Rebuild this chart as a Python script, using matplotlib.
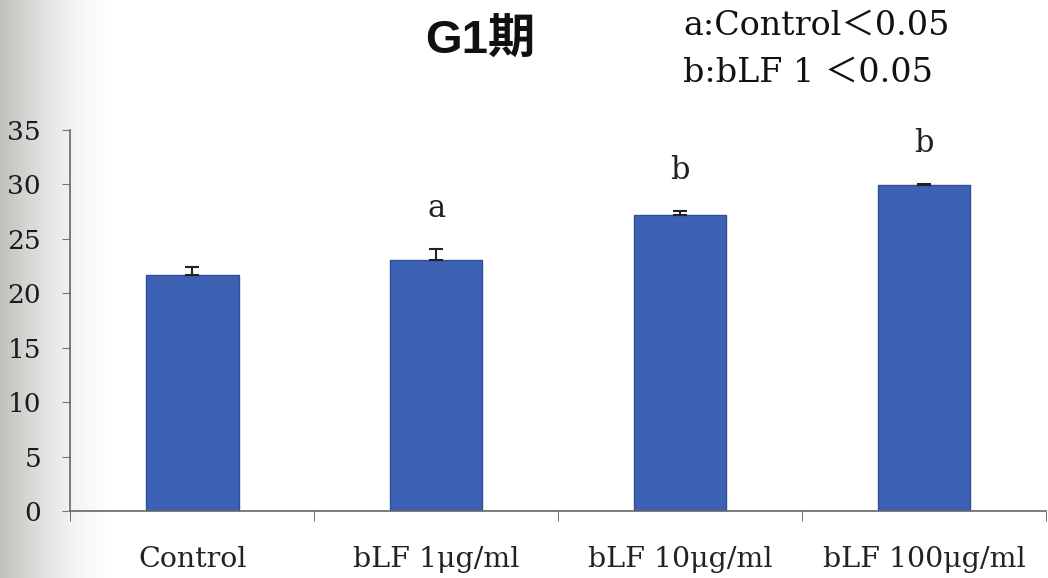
import numpy as np
import matplotlib
matplotlib.use("Agg")
import matplotlib.pyplot as plt

categories = ["Control", "bLF 1μg/ml", "bLF 10μg/ml", "bLF 100μg/ml"]
values = [21.7, 23.1, 27.2, 29.95]
errors = [0.7, 1.0, 0.35, 0.1]
sig_letters = ["", "a", "b", "b"]
yticks = [0, 5, 10, 15, 20, 25, 30, 35]
title = "G1期"
note_lines = ["a:Control＜0.05", "b:bLF 1 ＜0.05"]

serif = ["DejaVu Serif", "Noto Sans CJK JP"]
plt.rcParams["font.family"] = serif

fig = plt.figure(figsize=(10.48, 5.78), dpi=100)

# scan shading on left edge
bg = fig.add_axes([0, 0, 0.11, 1], zorder=-10)
grad = np.linspace(0, 1, 200)
alpha = np.clip(1 - grad, 0, 1) ** 1.6
img = np.ones((1, 200, 4))
img[..., 0] = 0.70
img[..., 1] = 0.71
img[..., 2] = 0.69
img[..., 3] = alpha * 0.85
bg.imshow(img, aspect="auto", extent=[0, 1, 0, 1])
bg.axis("off")

ax = fig.add_axes([0.067, 0.116, 0.931, 0.659])
ax.patch.set_alpha(0)
x = np.arange(len(categories))
ax.bar(x, values, width=0.38, color="#3D61B3", edgecolor="#2E4F9A", linewidth=1.0, zorder=2)
ax.errorbar(x, values, yerr=[np.zeros(len(errors)), errors], fmt="none",
            ecolor="#222222", elinewidth=1.5, capsize=5, capthick=1.5, zorder=3)

for xi, v, e, s in zip(x, values, errors, sig_letters):
    if s:
        ax.text(xi, v + e + 3.7, s, ha="center", va="center", fontsize=22, color="#222222")

ax.set_xlim(-0.5, 3.5)
ax.set_ylim(0, 35)
ax.set_yticks(yticks)
ax.set_yticklabels([str(t) for t in yticks], fontsize=19, color="#1a1a1a")
ax.set_xticks(x)
ax.set_xticklabels(categories, fontsize=20.5, color="#222222")
ax.set_xticks(np.arange(-0.5, 4.0, 1.0), minor=True)
ax.tick_params(axis="x", which="major", length=0, pad=25)
ax.tick_params(axis="x", which="minor", length=7, color="#555555", direction="out")
ax.tick_params(axis="y", length=6, color="#777777", direction="out", pad=15)
for sp in ["top", "right"]:
    ax.spines[sp].set_visible(False)
ax.spines["left"].set_color("#666666")
ax.spines["bottom"].set_color("#666666")
ax.spines["left"].set_linewidth(1.2)
ax.spines["bottom"].set_linewidth(1.2)

fig.text(0.458, 0.928, title, fontsize=34, fontweight="bold",
         family=["Liberation Sans", "Noto Sans CJK JP"], ha="center", va="center", color="#111111")
fig.text(0.652, 0.955, note_lines[0], fontsize=24, ha="left", va="center", color="#111111")
fig.text(0.652, 0.875, note_lines[1], fontsize=24, ha="left", va="center", color="#111111")

fig.savefig("out.png", dpi=100, facecolor="white")
